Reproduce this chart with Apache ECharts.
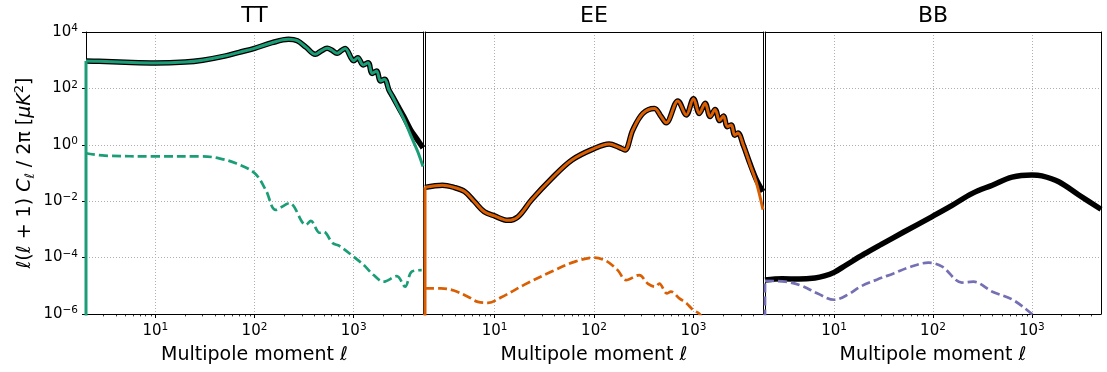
<!DOCTYPE html>
<html>
<head>
<meta charset="utf-8">
<script src="https://cdn.jsdelivr.net/npm/echarts@6/dist/echarts.min.js"></script>
<style>
  html, body { margin: 0; padding: 0; background: #ffffff; }
  #chart { width: 1107px; height: 372px; }
</style>
</head>
<body>
<div id="chart"></div>
<script>
// ---- Panel titles and axis ticks ----
const panelTitles = ['TT', 'EE', 'BB'];
const xMajorTicks = [10, 100, 1000];
const xMinorTicks = [3, 4, 5, 6, 7, 8, 9, 20, 30, 40, 50, 60, 70, 80, 90,
  200, 300, 400, 500, 600, 700, 800, 900, 2000, 3000, 4000];
const yMajorTicks = [1e-6, 1e-4, 1e-2, 1, 1e2, 1e4];

// ---- TT spectrum ----
const ellTT = [2, 2.7, 5, 10, 20, 30, 50, 70, 100, 150, 220, 270, 330, 410, 470, 540, 600,
  680, 750, 820, 1000, 1100, 1245, 1400, 1535, 1700, 1865, 2050, 2270, 2450, 2750, 3200,
  3750, 4400, 5000];
const ttTotal = [940, 910, 840, 795, 860, 1000, 1400, 1900, 2630, 4170, 5500, 4900, 2900,
  1620, 2130, 2630, 2300, 1750, 2170, 2600, 960, 1230, 680, 815, 340, 415, 182, 210, 87,
  54, 26, 10, 3.4, 1.5, 0.78];
const ttPrimary = [940, 910, 840, 795, 860, 1000, 1400, 1900, 2630, 4170, 5500, 4900, 2900,
  1620, 2130, 2630, 2300, 1750, 2170, 2600, 960, 1230, 680, 815, 340, 415, 182, 210, 87,
  54, 24, 8.3, 2.2, 0.6, 0.17];
const ellTTsec = [2, 3.1, 10, 30, 44, 65, 100, 130, 164, 225, 330, 370, 452, 495, 617, 718,
  1000, 1260, 1590, 2000, 2720, 3300, 3850, 4850];
const ttSecondary = [0.50, 0.41, 0.39, 0.39, 0.33, 0.22, 0.10, 0.025, 0.0049, 0.0085,
  0.00145, 0.0020, 7.6e-4, 8.3e-4, 3.2e-4, 2.6e-4, 1.07e-4, 5.5e-5, 2.4e-5, 1.4e-5,
  2.2e-5, 9.3e-6, 3.2e-5, 3.6e-5];

// ---- EE spectrum ----
const ellEE = [2, 3, 3.9, 5, 6.3, 7.9, 10, 13.6, 17.2, 23.5, 37.5, 60, 100, 142, 179, 205,
  245, 310, 405, 473, 531, 697, 847, 1000, 1145, 1310, 1470, 1650, 1830, 2000, 2190, 2400,
  2600, 2800, 3160, 3690, 4310, 5000];
const eeTotal = [0.031, 0.037, 0.031, 0.022, 0.0096, 0.0042, 0.0030, 0.0021, 0.0028, 0.011,
  0.064, 0.29, 0.73, 1.07, 0.81, 0.66, 3.3, 13, 19.5, 10, 6.0, 36, 11.5, 43, 13, 30, 10, 18,
  7.2, 10.5, 4.4, 5.0, 2.2, 2.6, 1.0, 0.22, 0.056, 0.022];
const eePrimary = [0.031, 0.037, 0.031, 0.022, 0.0096, 0.0042, 0.0030, 0.0021, 0.0028, 0.011,
  0.064, 0.29, 0.73, 1.07, 0.81, 0.66, 3.3, 13, 19.5, 10, 6.0, 36, 11.5, 43, 13, 30, 10, 18,
  7.2, 10.5, 4.4, 5.0, 2.2, 2.6, 1.0, 0.21, 0.043, 0.005];
const ellEEsec = [2, 2.9, 3.9, 5.4, 6.8, 8.6, 11.7, 20, 37.5, 64.5, 100, 131, 173, 210, 285,
  347, 414, 454, 540, 593, 721, 850, 990, 1150, 1300];
const eeSecondary = [8.1e-6, 8.1e-6, 6.8e-6, 4.1e-6, 2.7e-6, 2.5e-6, 3.9e-6, 1.1e-5, 3.2e-5,
  7.2e-5, 1.0e-4, 7.8e-5, 3.6e-5, 1.6e-5, 2.4e-5, 1.2e-5, 9.3e-6, 1.2e-5, 5.4e-6, 6.2e-6,
  3.6e-6, 2.4e-6, 1.4e-6, 1.0e-6, 5e-7];

// ---- BB spectrum ----
const ellBB = [2, 3, 4.4, 6.4, 8, 10, 13, 20, 30, 50, 97, 156, 250, 398, 630, 1000,
  1260, 1870, 2985, 5000];
const bbTotal = [1.62e-5, 1.78e-5, 1.74e-5, 1.9e-5, 2.24e-5, 3.0e-5, 5.25e-5, 1.32e-4,
  2.95e-4, 7.9e-4, 2.8e-3, 7.1e-3, 0.019, 0.037, 0.071, 0.085, 0.079, 0.049, 0.0166, 0.0052];
const ellBBsec = [2, 3.2, 4.7, 6.9, 10, 14, 18.4, 27, 40, 57, 90, 124, 196, 257, 398, 630,
  1000, 1200];
const bbSecondary = [1.5e-5, 1.4e-5, 1.0e-5, 5.2e-6, 3.2e-6, 5.0e-6, 9.3e-6, 1.65e-5,
  2.75e-5, 4.5e-5, 6.6e-5, 4.8e-5, 1.3e-5, 1.4e-5, 6.2e-6, 3.3e-6, 1.0e-6, 5e-7];

// ---- styling ----
const FONT = 'DejaVu Sans';
const GREEN = '#1b9e77', ORANGE = '#d95f02', PURPLE = '#7570b3';
const X_MIN = 2, X_MAX = 5000, Y_MIN = 1e-6, Y_MAX = 1e4;
const Y_FLOOR = 1e-8; // below the axis: start of the vertical rise at the first multipole

const grids = [
  { left: 86, top: 32, width: 337, height: 282 },
  { left: 425, top: 32, width: 338, height: 282 },
  { left: 765, top: 32, width: 336, height: 282 }
];

const zip = (xs, ys) => xs.map((x, i) => [x, ys[i]]);

function powLabel(v) {
  const e = Math.round(Math.log10(v));
  return '{b|10}{s|' + (e < 0 ? '\u2212' + (-e) : String(e)) + '}';
}
const powRich = {
  b: { fontFamily: FONT, fontSize: 15, color: '#000', lineHeight: 18 },
  s: { fontFamily: FONT, fontSize: 10.5, color: '#000', lineHeight: 11, verticalAlign: 'top' }
};

const gridLineStyle = { color: '#b0b0b0', width: 1, type: [1, 2] };
const spine = { show: true, onZero: false, lineStyle: { color: '#000', width: 1 } };
const off = { show: false };

const xAxes = [], yAxes = [];
// main axes (carry the series): x bottom, y left
grids.forEach((g, i) => {
  xAxes.push({
    type: 'log', gridIndex: i, min: X_MIN, max: X_MAX, position: 'bottom',
    axisLine: spine,
    axisTick: { show: true, length: 4, customValues: xMajorTicks, lineStyle: { color: '#000', width: 1 } },
    axisLabel: { show: true, customValues: xMajorTicks, formatter: powLabel, rich: powRich, margin: 8 },
    splitLine: { show: true, lineStyle: gridLineStyle },
    name: 'Multipole moment \u2113', nameLocation: 'middle', nameGap: 32,
    nameTextStyle: { fontFamily: FONT, fontSize: 19, color: '#000' }
  });
  yAxes.push({
    type: 'log', gridIndex: i, min: Y_MIN, max: Y_MAX, position: 'left',
    axisLine: spine,
    axisTick: { show: i === 0, length: 4, customValues: yMajorTicks, lineStyle: { color: '#000', width: 1 } },
    axisLabel: { show: i === 0, customValues: yMajorTicks, formatter: powLabel, rich: powRich, margin: 8 },
    splitLine: { show: true, lineStyle: gridLineStyle },
    name: i === 0 ? '{n|\u2113(\u2113 + 1) }{i|C}{sub|\u2113}{n| / 2\u03c0 [}{i|\u03bcK}{sup|2}{n|]}' : '',
    nameLocation: 'middle', nameRotate: 90, nameGap: 48.5,
    nameTextStyle: {
      fontFamily: FONT, fontSize: 19, color: '#000',
      rich: {
        n: { fontFamily: FONT, fontSize: 19, color: '#000', lineHeight: 24 },
        i: { fontFamily: FONT, fontSize: 19, color: '#000', fontStyle: 'italic', lineHeight: 24 },
        sub: { fontFamily: FONT, fontSize: 13, color: '#000', lineHeight: 13, verticalAlign: 'bottom' },
        sup: { fontFamily: FONT, fontSize: 13, color: '#000', lineHeight: 13, verticalAlign: 'top' }
      }
    }
  });
});
// minor ticks on the bottom, and the top / right frame lines
grids.forEach((g, i) => {
  xAxes.push({
    type: 'log', gridIndex: i, min: X_MIN, max: X_MAX, position: 'bottom',
    axisLine: off, axisLabel: off, splitLine: off,
    axisTick: { show: true, length: 2.4, customValues: xMinorTicks, lineStyle: { color: '#000', width: 0.8 } }
  });
  xAxes.push({
    type: 'log', gridIndex: i, min: X_MIN, max: X_MAX, position: 'top',
    axisLine: spine, axisTick: off, axisLabel: off, splitLine: off
  });
  yAxes.push({
    type: 'log', gridIndex: i, min: Y_MIN, max: Y_MAX, position: 'right',
    axisLine: spine, axisTick: off, axisLabel: off, splitLine: off
  });
});

function line(name, idx, xs, ys, color, width, dashed, z) {
  return {
    name, type: 'line', xAxisIndex: idx, yAxisIndex: idx,
    data: zip(xs, ys), smooth: 0.35, symbol: 'none', clip: true, z: z,
    lineStyle: { color, width, type: dashed ? [9, 4] : 'solid', join: 'round', cap: 'butt' },
    emphasis: { disabled: true }, silent: true
  };
}
// vertical rise from below the axis to the first value
function riseFrom(name, idx, xs, ys, color, width, dashed, z) {
  return {
    name, type: 'line', xAxisIndex: idx, yAxisIndex: idx,
    data: [[xs[0], Y_FLOOR], [xs[0], ys[0]]], symbol: 'none', clip: true, z: z,
    lineStyle: { color, width, type: dashed ? [9, 4] : 'solid' },
    emphasis: { disabled: true }, silent: true
  };
}

const series = [
  line('TT total', 0, ellTT, ttTotal, '#000', 5.5, false, 2),
  line('TT', 0, ellTT, ttPrimary, GREEN, 3, false, 3),
  riseFrom('TT rise', 0, ellTT, ttPrimary, GREEN, 3, false, 3),
  line('TT secondary', 0, ellTTsec, ttSecondary, GREEN, 2.7, true, 3),

  line('EE total', 1, ellEE, eeTotal, '#000', 5.5, false, 2),
  line('EE', 1, ellEE, eePrimary, ORANGE, 3, false, 3),
  riseFrom('EE rise', 1, ellEE, eePrimary, ORANGE, 3, false, 3),
  line('EE secondary', 1, ellEEsec, eeSecondary, ORANGE, 2.7, true, 3),

  line('BB total', 2, ellBB, bbTotal, '#000', 5.5, false, 2),
  riseFrom('BB rise', 2, ellBBsec, bbSecondary, PURPLE, 2.7, true, 3),
  line('BB secondary', 2, ellBBsec, bbSecondary, PURPLE, 2.7, true, 3)
];

const titleGraphics = grids.map((g, i) => ({
  type: 'text', x: g.left + g.width / 2, y: 5,
  style: { text: panelTitles[i], fill: '#000', font: '22px "DejaVu Sans"', align: 'center', verticalAlign: 'top' }
}));

const chart = echarts.init(document.getElementById('chart'), null, { renderer: 'canvas' });
chart.setOption({
  animation: false,
  backgroundColor: '#ffffff',
  textStyle: { fontFamily: FONT },
  grid: grids,
  xAxis: xAxes,
  yAxis: yAxes,
  graphic: titleGraphics,
  series
});
</script>
</body>
</html>
